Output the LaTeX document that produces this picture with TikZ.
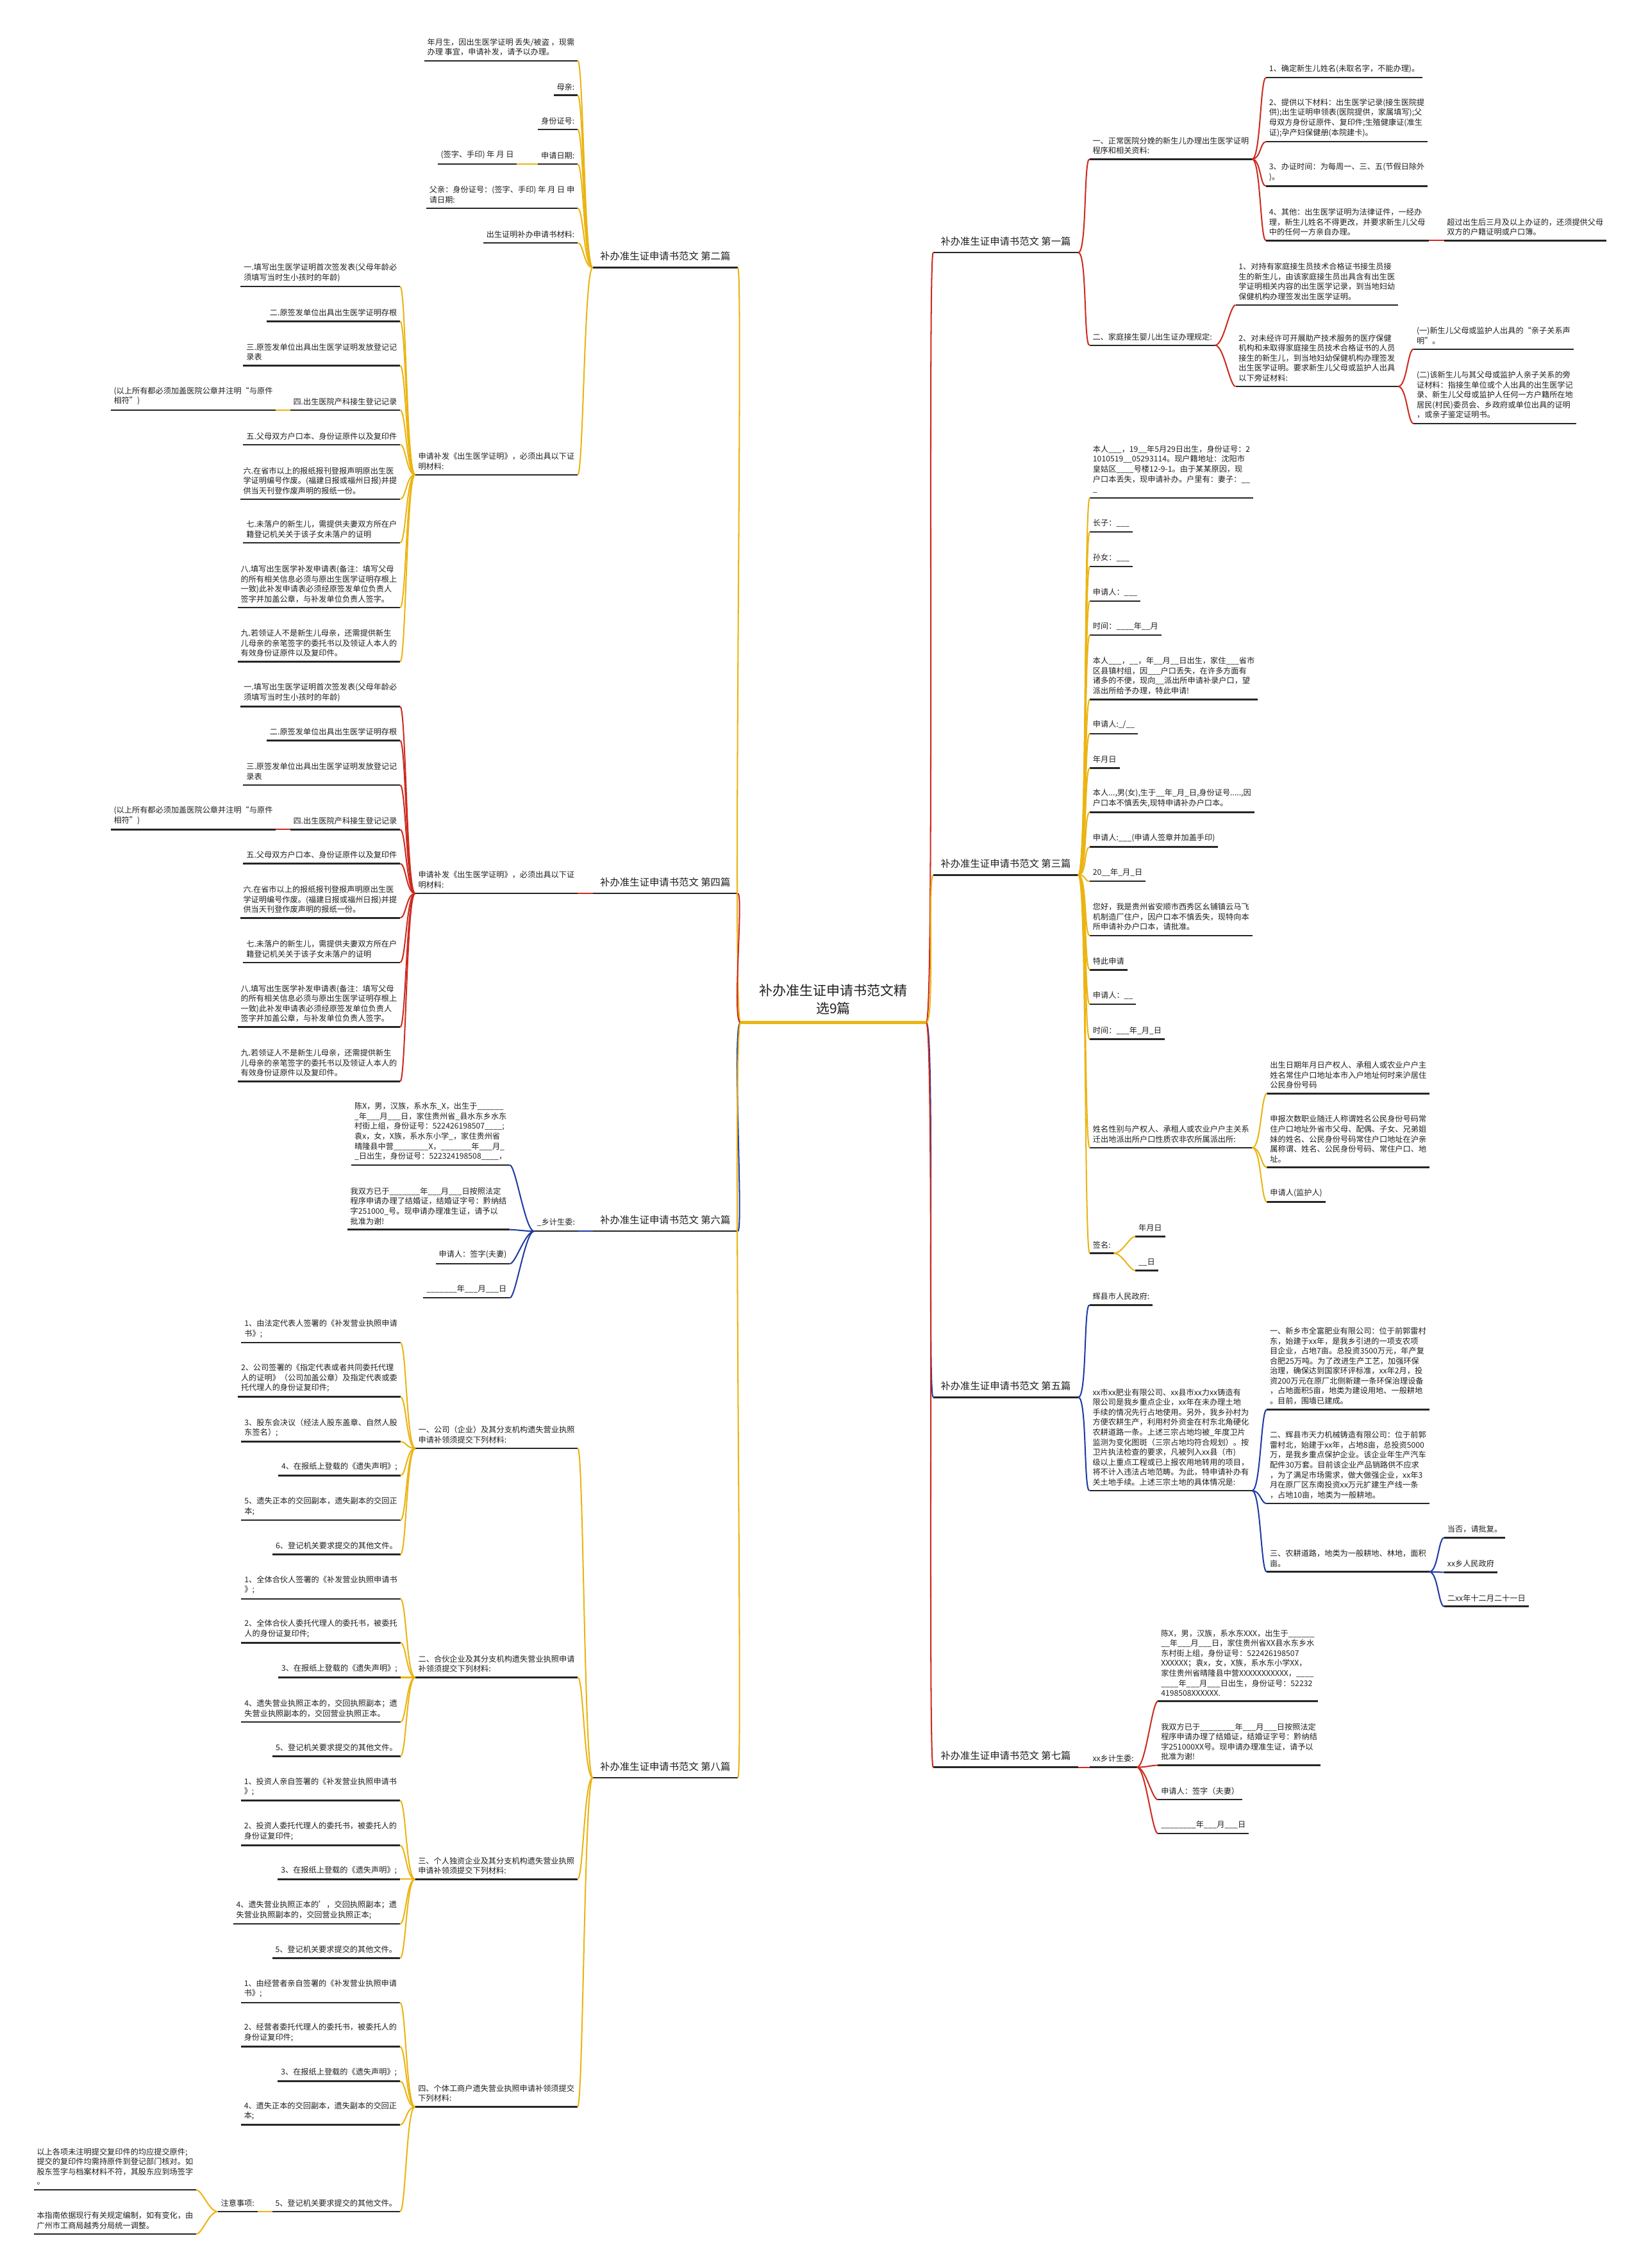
\documentclass[tikz,border=0pt]{standalone}
\usepackage{fontspec}
\setmainfont{Noto Sans CJK SC}
\definecolor{cred}{HTML}{CC2B1F}
\definecolor{cgold}{HTML}{EBB412}
\definecolor{cblue}{HTML}{1E3BA5}
\tikzset{
 leaf/.style={font=\fontsize{5.4}{6.9}\selectfont, align=left, inner xsep=2pt, inner ysep=3.2pt, text=black!88},
 lvl/.style={font=\fontsize{6.8}{8.8}\selectfont, inner xsep=5pt, inner ysep=4.4pt, text=black!88},
 uline/.style={line width=1.1pt, black!85},
 conn/.style={line width=0.9pt},
}
\newcommand\RN[4]{\node[leaf,anchor=south west] (#1) at (#2,#3) {#4}; \draw[uline] (#1.south west) -- (#1.south east);}
\newcommand\LN[4]{\node[leaf,anchor=south east] (#1) at (#2,#3) {#4}; \draw[uline] (#1.south west) -- (#1.south east);}
\newcommand\RL[4]{\node[lvl,anchor=south west] (#1) at (#2,#3) {#4}; \draw[uline] (#1.south west) -- (#1.south east);}
\newcommand\LL[4]{\node[lvl,anchor=south east] (#1) at (#2,#3) {#4}; \draw[uline] (#1.south west) -- (#1.south east);}
\newcommand\CR[3]{\draw[conn,#1] (#2.south east) .. controls +(6,0) and +(-4,0) .. (#3.south west);}
\newcommand\CL[3]{\draw[conn,#1] (#2.south west) .. controls +(-6,0) and +(4,0) .. (#3.south east);}
\begin{document}
\catcode`\_=12
\begin{tikzpicture}[x=1pt,y=-1pt]
\fill[white] (0,0) rectangle (1134,1568);
\useasboundingbox (0,0) rectangle (1134,1568);
% root
\node[font=\fontsize{9.3}{12.4}\selectfont, align=center, minimum width=128pt, inner ysep=5.3pt, anchor=south, text=black!88] (root) at (576,707) {补办准生证申请书范文精\\选9篇};
% level 1
\RL{P1}{645}{174.6}{补办准生证申请书范文 第一篇}
\RL{P3}{645}{605}{补办准生证申请书范文 第三篇}
\RL{P5}{645}{966}{补办准生证申请书范文 第五篇}
\RL{P7}{645}{1221.8}{补办准生证申请书范文 第七篇}
\LL{P2}{510}{185}{补办准生证申请书范文 第二篇}
\LL{P4}{510}{617.7}{补办准生证申请书范文 第四篇}
\LL{P6}{510}{851.2}{补办准生证申请书范文 第六篇}
\LL{P8}{510}{1229}{补办准生证申请书范文 第八篇}
% ---- first
\RN{P1A}{753}{110}{一、正常医院分娩的新生儿办理出生医学证明\\程序和相关资料:}
\RN{P1A1}{875}{53.7}{1、确定新生儿姓名(未取名字，不能办理)。}
\RN{P1A2}{875}{98}{2、提供以下材料：出生医学记录(接生医院提\\供);出生证明申领表(医院提供，家属填写);父\\母双方身份证原件、复印件;生殖健康证(准生\\证);孕产妇保健册(本院建卡)。}
\RN{P1A3}{875}{128.7}{3、办证时间：为每周一、三、五(节假日除外\\)。}
\RN{P1A4}{875}{166.3}{4、其他：出生医学证明为法律证件，一经办\\理，新生儿姓名不得更改，并要求新生儿父母\\中的任何一方亲自办理。}
\RN{P1A4a}{998}{166.3}{超过出生后三月及以上办证的，还须提供父母\\双方的户籍证明或户口簿。}
\RN{P1B}{753}{238.7}{二、家庭接生婴儿出生证办理规定:}
\RN{P1B1}{854}{210.9}{1、对持有家庭接生员技术合格证书接生员接\\生的新生儿，由该家庭接生员出具含有出生医\\学证明相关内容的出生医学记录，到当地妇幼\\保健机构办理签发出生医学证明。}
\RN{P1B2}{854}{267.2}{2、对未经许可开展助产技术服务的医疗保健\\机构和未取得家庭接生员技术合格证书的人员\\接生的新生儿，到当地妇幼保健机构办理签发\\出生医学证明。要求新生儿父母或监护人出具\\以下旁证材料:}
\RN{P1B2a}{977}{241.4}{(一)新生儿父母或监护人出具的“亲子关系声\\明”。}
\RN{P1B2b}{977}{292.8}{(二)该新生儿与其父母或监护人亲子关系的旁\\证材料：指接生单位或个人出具的出生医学记\\录、新生儿父母或监护人任何一方户籍所在地\\居民(村民)委员会、乡政府或单位出具的证明\\，或亲子鉴定证明书。}
% ---- third
\RN{P3a}{753.2}{344.3}{本人___，19__年5月29日出生，身份证号：2\\1010519__05293114。现户籍地址：沈阳市\\皇姑区____号楼12-9-1。由于某某原因，现\\户口本丢失，现申请补办。户里有：妻子：__\\_}
\RN{P3b}{753.2}{367.7}{长子：___}
\RN{P3c}{753.2}{391.7}{孙女：___}
\RN{P3d}{753.2}{415.5}{申请人：___}
\RN{P3e}{753.2}{439.1}{时间：____年__月}
\RN{P3f}{753.2}{483.6}{本人___，__，年__月__日出生，家住___省市\\区县镇村组，因___户口丢失，在许多方面有\\诸多的不便，现向__派出所申请补录户口，望\\派出所给予办理，特此申请!}
\RN{P3g}{753.2}{507.2}{申请人:_/__}
\RN{P3h}{753.2}{531}{年月日}
\RN{P3i}{753.2}{561.5}{本人...,男(女),生于__年_月_日,身份证号.....,因\\户口本不慎丢失,现特申请补办户口本。}
\RN{P3j}{753.2}{585.5}{申请人:___(申请人签章并加盖手印)}
\RN{P3k}{753.2}{609.3}{20__年_月_日}
\RN{P3l}{753.2}{646.8}{您好，我是贵州省安顺市西秀区幺铺镇云马飞\\机制造厂住户，因户口本不慎丢失，现特向本\\所申请补办户口本，请批准。}
\RN{P3m}{753.2}{670.5}{特此申请}
\RN{P3n}{753.2}{694.3}{申请人：__}
\RN{P3o}{753.2}{718.5}{时间：___年_月_日}
\RN{P3p}{753.2}{793.5}{姓名性别与产权人、承租人或农业户户主关系\\迁出地派出所户口性质农非农所属派出所:}
\RN{P3p1}{875.7}{756}{出生日期年月日产权人、承租人或农业户户主\\姓名常住户口地址本市入户地址何时来沪居住\\公民身份号码}
\RN{P3p2}{875.7}{807.1}{申报次数职业随迁人称谓姓名公民身份号码常\\住户口地址外省市父母、配偶、子女、兄弟姐\\妹的姓名、公民身份号码常住户口地址在沪亲\\属称谓、姓名、公民身份号码、常住户口、地\\址。}
\RN{P3p3}{875.7}{831}{申请人(监护人)}
\RN{P3q}{753.2}{866.5}{签名:}
\RN{P3q1}{784.7}{854.8}{年月日}
\RN{P3q2}{784.7}{878.4}{__日}
% ---- fifth
\RN{P5a}{753}{902.2}{辉县市人民政府:}
\RN{P5b}{753}{1030.6}{xx市xx肥业有限公司、xx县市xx力xx铸造有\\限公司是我乡重点企业，xx年在未办理土地\\手续的情况先行占地使用。另外，我乡孙村为\\方便农耕生产，利用村外资金在村东北角硬化\\农耕道路一条。上述三宗占地均被_年度卫片\\监测为变化图斑（三宗占地均符合规划）。按\\卫片执法检查的要求，凡被列入xx县（市)\\级以上重点工程或已上报农用地转用的项目，\\将不计入违法占地范畴。为此，特申请补办有\\关土地手续。上述三宗土地的具体情况是:}
\RN{P5b1}{875.5}{974.5}{一、新乡市全富肥业有限公司：位于前郭雷村\\东，始建于xx年，是我乡引进的一项支农项\\目企业，占地7亩。总投资3500万元，年产复\\合肥25万吨。为了改进生产工艺，加强环保\\治理，确保达到国家环评标准，xx年2月，投\\资200万元在原厂北侧新建一条环保治理设备\\，占地面积5亩，地类为建设用地、一般耕地\\。目前，围墙已建成。}
\RN{P5b2}{875.5}{1039.5}{二、辉县市天力机械铸造有限公司：位于前郭\\雷村北，始建于xx年，占地8亩，总投资5000\\万，是我乡重点保护企业。该企业年生产汽车\\配件30万套。目前该企业产品销路供不应求\\，为了满足市场需求，做大做强企业，xx年3\\月在原厂区东南投资xx万元扩建生产线一条\\，占地10亩，地类为一般耕地。}
\RN{P5b3}{875.5}{1086.7}{三、农耕道路，地类为一般耕地、林地，面积\\亩。}
\RN{P5b3a}{998.2}{1063.1}{当否，请批复。}
\RN{P5b3b}{998.2}{1087}{xx乡人民政府}
\RN{P5b3c}{998.2}{1110.6}{二xx年十二月二十一日}
% ---- seventh
\RN{P7a}{753}{1221.8}{xx乡计生委:}
\RN{P7a1}{800.3}{1176.1}{陈X，男，汉族，系水东XXX，出生于______\\__年___月___日，家住贵州省XX县水东乡水\\东村街上组，身份证号：522426198507\\XXXXXX；袁x，女，X族，系水东小学XX，\\家住贵州省晴隆县中营XXXXXXXXXXX，____\\____年___月___日出生，身份证号：52232\\4198508XXXXXX.}
\RN{P7a2}{800.3}{1220.4}{我双方已于________年___月___日按照法定\\程序申请办理了结婚证，结婚证字号：黔纳结\\字251000XX号。现申请办理准生证，请予以\\批准为谢!}
\RN{P7a3}{800.3}{1244.2}{申请人：签字（夫妻）}
\RN{P7a4}{800.3}{1267.6}{________年___月___日}
% ---- second
\LN{P2a}{399.3}{42}{年月生，因出生医学证明 丢失/被盗 ，现需\\办理 事宜，申请补发，请予以办理。}
\LN{P2b}{399.3}{65.9}{母亲:}
\LN{P2c}{399.3}{89.6}{身份证号:}
\LN{P2d}{399.3}{113.4}{申请日期:}
\LN{P2d1}{357.3}{113.4}{(签字、手印) 年 月 日}
\LN{P2e}{399.3}{144}{父亲：身份证号：(签字、手印) 年 月 日 申\\请日期:}
\LN{P2f}{399.3}{167.9}{出生证明补办申请书材料:}
\LN{P2g}{399.3}{328.2}{申请补发《出生医学证明》，必须出具以下证\\明材料:}
\LN{P2g1}{276.6}{198.1}{一.填写出生医学证明首次签发表(父母年龄必\\须填写当时生小孩时的年龄)}
\LN{P2g2}{276.6}{222.2}{二.原签发单位出具出生医学证明存根}
\LN{P2g3}{276.6}{252.8}{三.原签发单位出具出生医学证明发放登记记\\录表}
\LN{P2g4}{276.6}{283.5}{四.出生医院产科接生登记记录}
\LN{P2g4a}{190.7}{283.5}{(以上所有都必须加盖医院公章并注明“与原件\\相符”)}
\LN{P2g5}{276.6}{307.4}{五.父母双方户口本、身份证原件以及复印件}
\LN{P2g6}{276.6}{345.1}{六.在省市以上的报纸报刊登报声明原出生医\\学证明编号作废。(福建日报或福州日报)并提\\供当天刊登作废声明的报纸一份。}
\LN{P2g7}{276.6}{375.3}{七.未落户的新生儿，需提供夫妻双方所在户\\籍登记机关关于该子女未落户的证明}
\LN{P2g8}{276.6}{420.1}{八.填写出生医学补发申请表(备注：填写父母\\的所有相关信息必须与原出生医学证明存根上\\一致)此补发申请表必须经原签发单位负责人\\签字并加盖公章，与补发单位负责人签字。}
\LN{P2g9}{276.6}{457.4}{九.若领证人不是新生儿母亲，还需提供新生\\儿母亲的亲笔签字的委托书以及领证人本人的\\有效身份证原件以及复印件。}
% ---- fourth
\LN{P4a}{399.3}{617.7}{申请补发《出生医学证明》，必须出具以下证\\明材料:}
\LN{P4a1}{276.6}{488.5}{一.填写出生医学证明首次签发表(父母年龄必\\须填写当时生小孩时的年龄)}
\LN{P4a2}{276.6}{512}{二.原签发单位出具出生医学证明存根}
\LN{P4a3}{276.6}{542.7}{三.原签发单位出具出生医学证明发放登记记\\录表}
\LN{P4a4}{276.6}{573.5}{四.出生医院产科接生登记记录}
\LN{P4a4a}{190.7}{573.5}{(以上所有都必须加盖医院公章并注明“与原件\\相符”)}
\LN{P4a5}{276.6}{597.1}{五.父母双方户口本、身份证原件以及复印件}
\LN{P4a6}{276.6}{634.6}{六.在省市以上的报纸报刊登报声明原出生医\\学证明编号作废。(福建日报或福州日报)并提\\供当天刊登作废声明的报纸一份。}
\LN{P4a7}{276.6}{665.4}{七.未落户的新生儿，需提供夫妻双方所在户\\籍登记机关关于该子女未落户的证明}
\LN{P4a8}{276.6}{710.1}{八.填写出生医学补发申请表(备注：填写父母\\的所有相关信息必须与原出生医学证明存根上\\一致)此补发申请表必须经原签发单位负责人\\签字并加盖公章，与补发单位负责人签字。}
\LN{P4a9}{276.6}{747.6}{九.若领证人不是新生儿母亲，还需提供新生\\儿母亲的亲笔签字的委托书以及领证人本人的\\有效身份证原件以及复印件。}
% ---- sixth
\LN{P6a}{399.6}{851.2}{_乡计生委:}
\LN{P6a1}{352.4}{805.5}{陈X，男，汉族，系水东_X，出生于______\\_年___月___日，家住贵州省_县水东乡水东\\村街上组，身份证号：522426198507____;\\袁x，女，X族，系水东小学_，家住贵州省\\晴隆县中营________X，_______年___月_\\_日出生，身份证号：522324198508____，}
\LN{P6a2}{352.4}{850.1}{我双方已于_______年___月___日按照法定\\程序申请办理了结婚证，结婚证字号：黔纳结\\字251000_号。现申请办理准生证，请予以\\批准为谢!}
\LN{P6a3}{352.4}{873.7}{申请人：签字(夫妻)}
\LN{P6a4}{352.4}{897.3}{_______年___月___日}
% ---- eighth
\LN{P8a}{399.4}{1001.3}{一、公司（企业）及其分支机构遗失营业执照\\申请补领须提交下列材料:}
\LN{P8a1}{276.8}{928.3}{1、由法定代表人签署的《补发营业执照申请\\书》;}
\LN{P8a2}{276.8}{965.7}{2、公司签署的《指定代表或者共同委托代理\\人的证明》（公司加盖公章）及指定代表或委\\托代理人的身份证复印件;}
\LN{P8a3}{276.8}{996.7}{3、股东会决议（经法人股东盖章、自然人股\\东签名）;}
\LN{P8a4}{276.8}{1020.1}{4、在报纸上登载的《遗失声明》;}
\LN{P8a5}{276.8}{1051}{5、遗失正本的交回副本，遗失副本的交回正\\本;}
\LN{P8a6}{276.8}{1074.7}{6、登记机关要求提交的其他文件。}
\LN{P8b}{399.4}{1159.7}{二、合伙企业及其分支机构遗失营业执照申请\\补领须提交下列材料:}
\LN{P8b1}{276.8}{1105.4}{1、全体合伙人签署的《补发营业执照申请书\\》;}
\LN{P8b2}{276.8}{1135.7}{2、全体合伙人委托代理人的委托书，被委托\\人的身份证复印件;}
\LN{P8b3}{276.8}{1159.7}{3、在报纸上登载的《遗失声明》;}
\LN{P8b4}{276.8}{1190.5}{4、遗失营业执照正本的，交回执照副本；遗\\失营业执照副本的，交回营业执照正本。}
\LN{P8b5}{276.8}{1214.1}{5、登记机关要求提交的其他文件。}
\LN{P8c}{399.2}{1299.2}{三、个人独资企业及其分支机构遗失营业执照\\申请补领须提交下列材料:}
\LN{P8c1}{276.5}{1244.8}{1、投资人亲自签署的《补发营业执照申请书\\》;}
\LN{P8c2}{276.5}{1275.8}{2、投资人委托代理人的委托书，被委托人的\\身份证复印件;}
\LN{P8c3}{276.5}{1299.2}{3、在报纸上登载的《遗失声明》;}
\LN{P8c4}{276.5}{1330.1}{4、遗失营业执照正本的'，交回执照副本；遗\\失营业执照副本的，交回营业执照正本;}
\LN{P8c5}{276.5}{1353.7}{5、登记机关要求提交的其他文件。}
\LN{P8d}{399.2}{1456.6}{四、个体工商户遗失营业执照申请补领须提交\\下列材料:}
\LN{P8d1}{276.5}{1384.5}{1、由经营者亲自签署的《补发营业执照申请\\书》;}
\LN{P8d2}{276.5}{1414.9}{2、经营者委托代理人的委托书，被委托人的\\身份证复印件;}
\LN{P8d3}{276.5}{1438.8}{3、在报纸上登载的《遗失声明》;}
\LN{P8d4}{276.5}{1469}{4、遗失正本的交回副本，遗失副本的交回正\\本;}
\LN{P8d5}{276.5}{1529}{5、登记机关要求提交的其他文件。}
\LN{P8d5a}{178}{1529}{注意事项:}
\LN{P8d5a1}{135.7}{1514}{以上各项未注明提交复印件的均应提交原件;\\提交的复印件均需持原件到登记部门核对。如\\股东签字与档案材料不符，其股东应到场签字\\。}
\LN{P8d5a2}{135.7}{1544.5}{本指南依据现行有关规定编制，如有变化，由\\广州市工商局越秀分局统一调整。}
% ---- connectors
\CR{cred}{root}{P1}
\CR{cgold}{root}{P3}
\CR{cblue}{root}{P5}
\CR{cred}{root}{P7}
\CL{cgold}{root}{P2}
\CL{cred}{root}{P4}
\CL{cblue}{root}{P6}
\CL{cgold}{root}{P8}
\foreach \c in {P1A,P1B}{\CR{cred}{P1}{\c}}
\foreach \c in {P1A1,P1A2,P1A3,P1A4}{\CR{cred}{P1A}{\c}}
\CR{cred}{P1A4}{P1A4a}
\foreach \c in {P1B1,P1B2}{\CR{cred}{P1B}{\c}}
\foreach \c in {P1B2a,P1B2b}{\CR{cred}{P1B2}{\c}}
\foreach \c in {P3a,P3b,P3c,P3d,P3e,P3f,P3g,P3h,P3i,P3j,P3k,P3l,P3m,P3n,P3o,P3p,P3q}{\CR{cgold}{P3}{\c}}
\foreach \c in {P3p1,P3p2,P3p3}{\CR{cgold}{P3p}{\c}}
\foreach \c in {P3q1,P3q2}{\CR{cgold}{P3q}{\c}}
\foreach \c in {P5a,P5b}{\CR{cblue}{P5}{\c}}
\foreach \c in {P5b1,P5b2,P5b3}{\CR{cblue}{P5b}{\c}}
\foreach \c in {P5b3a,P5b3b,P5b3c}{\CR{cblue}{P5b3}{\c}}
\CR{cred}{P7}{P7a}
\foreach \c in {P7a1,P7a2,P7a3,P7a4}{\CR{cred}{P7a}{\c}}
\foreach \c in {P2a,P2b,P2c,P2d,P2e,P2f,P2g}{\CL{cgold}{P2}{\c}}
\CL{cgold}{P2d}{P2d1}
\foreach \c in {P2g1,P2g2,P2g3,P2g4,P2g5,P2g6,P2g7,P2g8,P2g9}{\CL{cgold}{P2g}{\c}}
\CL{cgold}{P2g4}{P2g4a}
\CL{cred}{P4}{P4a}
\foreach \c in {P4a1,P4a2,P4a3,P4a4,P4a5,P4a6,P4a7,P4a8,P4a9}{\CL{cred}{P4a}{\c}}
\CL{cred}{P4a4}{P4a4a}
\CL{cblue}{P6}{P6a}
\foreach \c in {P6a1,P6a2,P6a3,P6a4}{\CL{cblue}{P6a}{\c}}
\foreach \c in {P8a,P8b,P8c,P8d}{\CL{cgold}{P8}{\c}}
\foreach \c in {P8a1,P8a2,P8a3,P8a4,P8a5,P8a6}{\CL{cgold}{P8a}{\c}}
\foreach \c in {P8b1,P8b2,P8b3,P8b4,P8b5}{\CL{cgold}{P8b}{\c}}
\foreach \c in {P8c1,P8c2,P8c3,P8c4,P8c5}{\CL{cgold}{P8c}{\c}}
\foreach \c in {P8d1,P8d2,P8d3,P8d4,P8d5}{\CL{cgold}{P8d}{\c}}
\CL{cgold}{P8d5}{P8d5a}
\foreach \c in {P8d5a1,P8d5a2}{\CL{cgold}{P8d5a}{\c}}
% root underline on top
\draw[cgold, line width=2pt] (root.south west) -- (root.south east);
\end{tikzpicture}
\end{document}
